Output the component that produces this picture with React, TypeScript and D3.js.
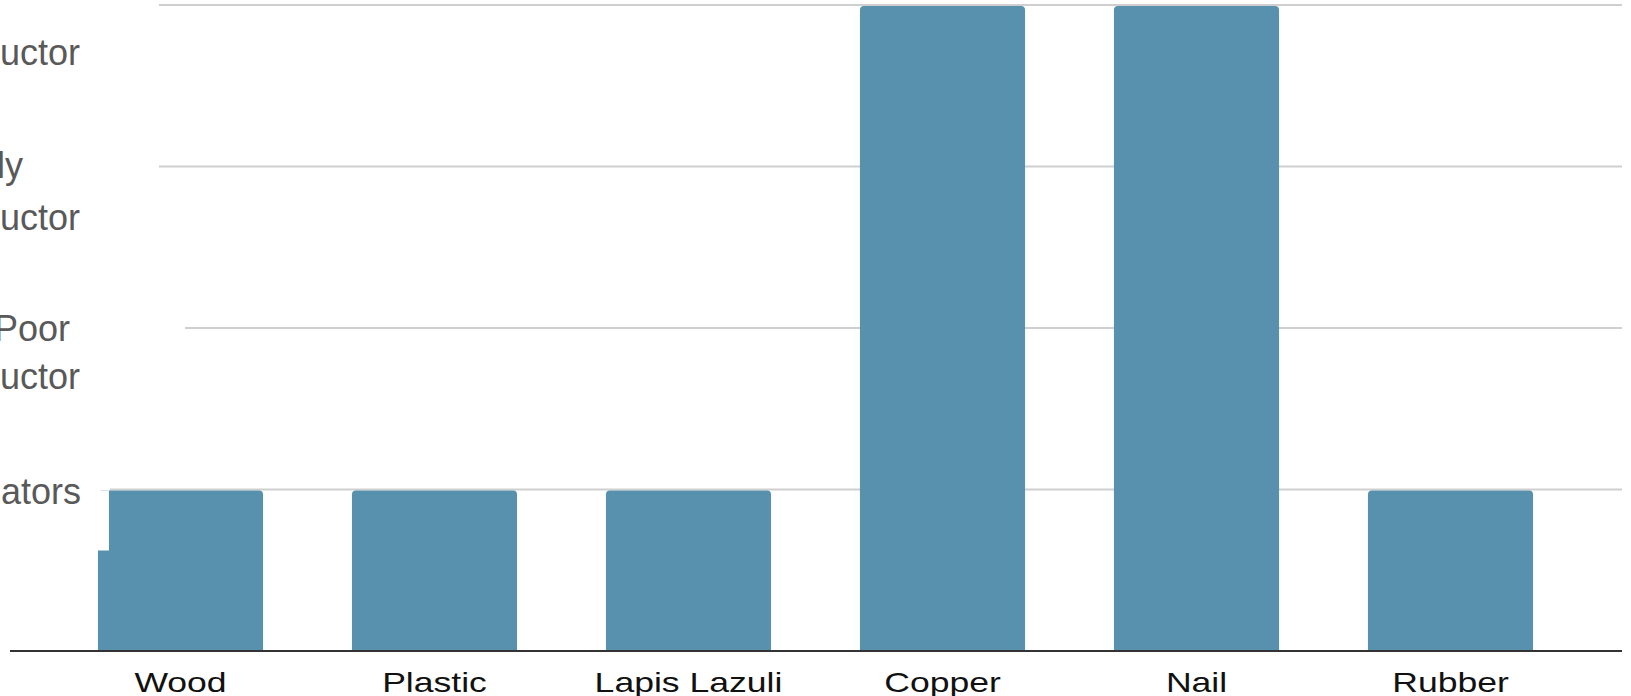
import React from "react";
import * as d3 from "d3";

// ---- data ----
const categories = ["Wood", "Plastic", "Lapis Lazuli", "Copper", "Nail", "Rubber"];
const conductivity = [1, 1, 1, 4, 4, 1];
const levelValues = [1, 2, 3, 4];
const levelLabels = [["Insulators"], ["Poor ", "Conductor"], ["Fairly", "Conductor"], ["Conductor"]];

// ---- layout / style ----
const W = 1631;
const H = 696;
const BAR = "#5891ae";
const GRID = "#cfcfcf";
const gridStart: Record<number, number> = { 1: 110, 2: 185, 3: 159, 4: 159 };
const gridEnd = 1622;
// baseline offsets (relative to gridline y) for each label line, and right edge of each line
const labelLayout: Record<number, { dy: number[]; x: number[] }> = {
  1: { dy: [14], x: [81] },
  2: { dy: [13, 61], x: [80, 80] },
  3: { dy: [11, 63], x: [23, 80] },
  4: { dy: [60], x: [80] },
};

function topRounded(x: number, y: number, w: number, h: number, r: number) {
  const p = d3.path();
  p.moveTo(x, y + h);
  p.lineTo(x, y + r);
  p.arcTo(x, y, x + r, y, r);
  p.lineTo(x + w - r, y);
  p.arcTo(x + w, y, x + w, y + r, r);
  p.lineTo(x + w, y + h);
  p.closePath();
  return p.toString();
}

export default function App() {
  const x = d3.scaleBand<string>().domain(categories).range([53.5, 1577.5]).paddingInner(0.35).paddingOuter(0.175);
  const y = d3.scaleLinear().domain([0, 4]).range([651, 5]);
  const font = "'Liberation Sans', Arial, Helvetica, sans-serif";

  return (
    <div style={{ position: "fixed", left: 0, top: 0, width: W, height: H, overflow: "hidden", background: "#fff" }}>
      <svg width={W} height={H} style={{ display: "block" }}>
        {levelValues.map((v) => (
          <line key={"g" + v} x1={gridStart[v]} x2={gridEnd} y1={y(v)} y2={y(v)} stroke={GRID} strokeWidth={2} />
        ))}
        {categories.map((c, i) => {
          const bx = x(c)!;
          const by = y(conductivity[i]) + 1;
          return (
            <path key={c} d={topRounded(bx, by, x.bandwidth(), y(0) - by, 4)} fill={BAR} />
          );
        })}
        {/* notch on the first bar */}
        <rect x={x(categories[0])! - 1} y={y(1) + 1} width={12} height={60} fill="#fff" />
        <line x1={10} x2={gridEnd} y1={y(0)} y2={y(0)} stroke="#333" strokeWidth={2} />
        {levelValues.map((v, i) =>
          levelLabels[i].map((t, j) => (
            <text
              key={"l" + v + j}
              x={labelLayout[v].x[j]}
              y={y(v) + labelLayout[v].dy[j]}
              textAnchor="end"
              fontFamily={font}
              fontSize={36}
              fill="#595959"
              style={{ whiteSpace: "pre" }}
            >
              {t}
            </text>
          ))
        )}
        {categories.map((c) => (
          <text
            key={"x" + c}
            transform={`translate(${x(c)! + x.bandwidth() / 2},692) scale(1.27,1)`}
            textAnchor="middle"
            fontFamily={font}
            fontSize={28}
            fill="#111"
          >
            {c}
          </text>
        ))}
      </svg>
    </div>
  );
}
